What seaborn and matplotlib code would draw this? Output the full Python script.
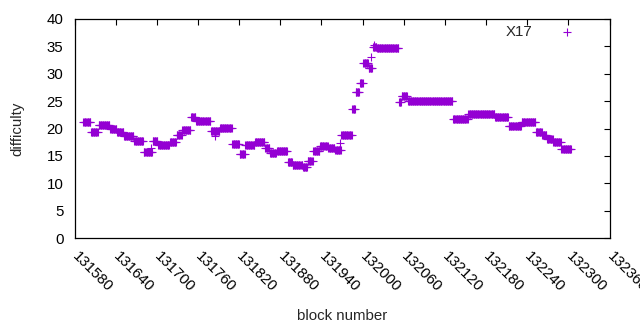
import numpy as np
import pandas as pd
import matplotlib
matplotlib.use("Agg")
from matplotlib import pyplot as plt
import seaborn as sns

# difficulty stays flat over runs of blocks: (first block, last block + 1, value)
seg_start = [131593, 131604, 131615, 131632, 131642, 131652, 131667, 131681,
             131694, 131702, 131719, 131729, 131737, 131750, 131757, 131779,
             131792, 131810, 131821, 131829, 131843, 131858, 131865, 131875,
             131891, 131898, 131913, 131920, 131928, 131938, 131950, 131960,
             131969, 131985, 131990, 131996, 132001, 132009, 132015, 132021,
             132053, 132057, 132066, 132132, 132154, 132193, 132213, 132232,
             132253, 132262, 132269, 132278, 132290]
seg_end = seg_start[1:] + [132305]
seg_value = [21.2, 19.4, 20.6, 19.9, 19.4, 18.6, 17.7, 15.7,
             17.7, 17.0, 17.5, 18.8, 19.7, 22.1, 21.4, 19.5,
             20.1, 17.2, 15.3, 17.0, 17.5, 16.4, 15.5, 15.9,
             13.9, 13.4, 13.0, 14.1, 15.9, 16.8, 16.4, 16.1,
             18.9, 23.6, 26.7, 28.3, 32.0, 31.0, 34.9, 34.7,
             24.9, 25.9, 25.0, 21.7, 22.6, 22.1, 20.4, 21.2,
             19.3, 18.8, 18.1, 17.5, 16.3]

# single blocks off the runs
extra_block = [131691, 131785, 131967, 132012, 132017]
extra_value = [16.5, 18.6, 17.4, 33.0, 35.2]

xticks = list(range(131580, 132361, 60))

blocks, diffs = [], []
for a, b, v in zip(seg_start, seg_end, seg_value):
    blocks += list(range(a, b))
    diffs += [v] * (b - a)
blocks += extra_block
diffs += extra_value
df = pd.DataFrame({"block": blocks, "difficulty": diffs})

color = "#9400d3"
sns.set_style("white")
plt.rcParams["font.family"] = ["Liberation Sans", "DejaVu Sans"]
plt.rcParams["font.size"] = 10.8

fig = plt.figure(figsize=(6.4, 3.3), dpi=100)
ax = fig.add_axes([74.5 / 640, 1 - 238 / 330, 535 / 640, 219 / 330])

sns.scatterplot(data=df, x="block", y="difficulty", marker="+", s=28,
                linewidth=0.8, color=color, label="X17", ax=ax)

ax.set_xlim(131580, 132360)
ax.set_ylim(0, 40)
ax.set_xticks(xticks)
ax.set_xticklabels([str(t) for t in xticks], rotation=-45, ha="left",
                   va="center", rotation_mode="anchor")
ax.set_yticks(range(0, 41, 5))
ax.tick_params(direction="in", top=True, right=True, length=4, width=0.8,
               colors="black")
ax.tick_params(axis="x", pad=12)
ax.tick_params(axis="y", pad=8)
for s in ax.spines.values():
    s.set_color("black")
    s.set_linewidth(0.9)

ax.set_xlabel("block number")
ax.xaxis.label.set_va("center")
ax.xaxis.set_label_coords(0.5, -0.356)
ax.set_ylabel("difficulty")
ax.yaxis.label.set_va("center")
ax.yaxis.set_label_coords(-0.107, 0.5)

leg = ax.legend(loc="upper right", bbox_to_anchor=(0.9626, 0.971),
                frameon=False, markerfirst=False, borderpad=0,
                borderaxespad=0, handlelength=3.0, handletextpad=0.8)
for h in leg.legend_handles:
    h.set_color(color)

fig.savefig("out.png", dpi=100)
